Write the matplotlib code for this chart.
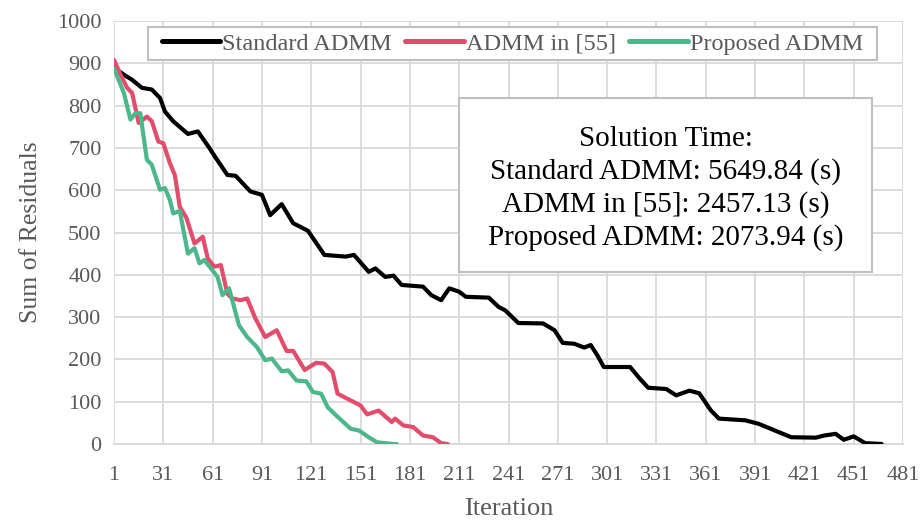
import matplotlib
matplotlib.use("Agg")
import matplotlib.pyplot as plt
from matplotlib.patches import Rectangle

plt.rcParams['font.family'] = ['Liberation Serif', 'DejaVu Serif']

# ---- data ----
std_iter = [1, 7, 12, 18, 24, 29, 32, 37, 46, 52, 59, 63, 70, 75, 84, 91, 96, 103, 110, 119,
            129, 142, 147, 156, 160, 166, 171, 176, 189, 194, 200, 205, 211, 215, 229, 235, 239,
            247, 262, 269, 274, 281, 287, 291, 295, 299, 315, 321, 326, 337, 343, 351, 357, 364,
            369, 385, 393, 403, 413, 428, 433, 440, 445, 451, 458, 468]
std_vals = [890, 873, 861, 842, 838, 818, 786, 763, 733, 739, 700, 676, 636, 634, 597, 589, 541,
            567, 522, 504, 447, 443, 447, 407, 415, 395, 398, 376, 372, 352, 340, 368, 360, 348,
            346, 324, 316, 286, 285, 269, 239, 237, 228, 234, 210, 182, 182, 154, 133, 130, 115,
            126, 120, 80, 60, 56, 48, 32, 16, 15, 20, 24, 10, 18, 2, 0]

ref_iter = [1, 5, 9, 12, 16, 21, 24, 28, 31, 35, 38, 41, 45, 50, 55, 58, 62, 66, 70, 73, 78, 82,
            87, 93, 100, 106, 110, 117, 124, 129, 134, 137, 143, 151, 155, 162, 170, 172, 177, 183,
            189, 195, 200, 204]
ref_vals = [908, 873, 842, 830, 759, 774, 763, 715, 711, 664, 636, 561, 535, 474, 490, 439, 419,
            423, 355, 344, 340, 344, 297, 253, 269, 220, 220, 175, 192, 190, 170, 119, 107, 91, 70,
            79, 52, 60, 44, 40, 20, 16, 2, 0]

prop_iter = [1, 7, 11, 14, 17, 21, 24, 29, 32, 35, 37, 41, 46, 50, 53, 56, 64, 67, 71, 77, 82, 88,
             93, 97, 103, 107, 112, 118, 122, 127, 131, 136, 145, 150, 156, 161, 171, 173]
prop_vals = [888, 830, 767, 782, 782, 672, 660, 601, 605, 577, 545, 551, 450, 463, 427, 435, 395,
             352, 368, 281, 253, 229, 198, 202, 172, 174, 150, 148, 123, 119, 87, 68, 36, 32, 16,
             4, 0, 0]

series_names = ["Standard ADMM", "ADMM in [55]", "Proposed ADMM"]
series_colors = ["#000000", "#E34C6A", "#4CB78A"]
x_ticks = list(range(1, 482, 30))
y_ticks = list(range(0, 1001, 100))
box_lines = ["Solution Time:", "Standard ADMM: 5649.84 (s)",
             "ADMM in [55]: 2457.13 (s)", "Proposed ADMM: 2073.94 (s)"]

# ---- figure ----
W, H = 921, 522
L, R, T, B = 114, 903, 21, 444
fig = plt.figure(figsize=(W/100, H/100), dpi=100)
ax = fig.add_axes([L/W, 1-B/H, (R-L)/W, (B-T)/H])

def ax_x(px):
    return (px-L)/(R-L)

def ax_y(py):
    return (B-py)/(B-T)

gray = "#595959"
grid_c = "#d9d9d9"

for it, vals, name, c in zip([std_iter, ref_iter, prop_iter], [std_vals, ref_vals, prop_vals],
                             series_names, series_colors):
    ax.plot(it, vals, color=c, lw=3.0, label=name, solid_joinstyle='round',
            solid_capstyle='round', zorder=3)

ax.set_xlim(1, 481)
ax.set_ylim(0, 1000)
ax.set_xticks(x_ticks)
ax.set_yticks(y_ticks)
ax.grid(True, color=grid_c, lw=1.3)
ax.set_axisbelow(True)
for s in ['top', 'right', 'left']:
    ax.spines[s].set_visible(False)
ax.spines['bottom'].set_color(grid_c)
ax.spines['bottom'].set_linewidth(1.3)
ax.tick_params(axis='both', length=0, labelsize=16, labelcolor=gray)
ax.tick_params(axis='x', pad=16)
ax.tick_params(axis='y', pad=9)

ax.set_xlabel("Iteration", fontsize=19, color=gray, labelpad=9)
ax.set_ylabel("Sum of Residuals", fontsize=18.5, color=gray, labelpad=11)

# legend with manual frame
lrect = Rectangle((ax_x(148), ax_y(60)), ax_x(877)-ax_x(148), ax_y(27)-ax_y(60),
                  transform=ax.transAxes, facecolor='white', edgecolor='#bfbfbf', lw=1.5,
                  zorder=4, clip_on=False)
ax.add_patch(lrect)
leg = ax.legend(loc='center', bbox_to_anchor=(ax_x(512.5), ax_y(43.5)), ncol=3, fontsize=17.5,
                frameon=False, handlelength=2.4, handletextpad=0.1,
                columnspacing=0.55, borderpad=0.2)
leg.set_zorder(5)
for t in leg.get_texts():
    t.set_color(gray)
for h in leg.get_lines():
    h.set_linewidth(3.6)

# text box
x0, x1 = ax_x(459), ax_x(872)
y0, y1 = ax_y(272), ax_y(98)
rect = Rectangle((x0, y0), x1-x0, y1-y0, transform=ax.transAxes, facecolor='white',
                 edgecolor='#bfbfbf', lw=1.5, zorder=5)
ax.add_patch(rect)
ax.text((x0+x1)/2, ax_y(188.5), "\n".join(box_lines), transform=ax.transAxes,
        ha='center', va='center', multialignment='center', fontsize=21, color='black',
        linespacing=1.3, zorder=6)

fig.savefig("out.png", dpi=100)
